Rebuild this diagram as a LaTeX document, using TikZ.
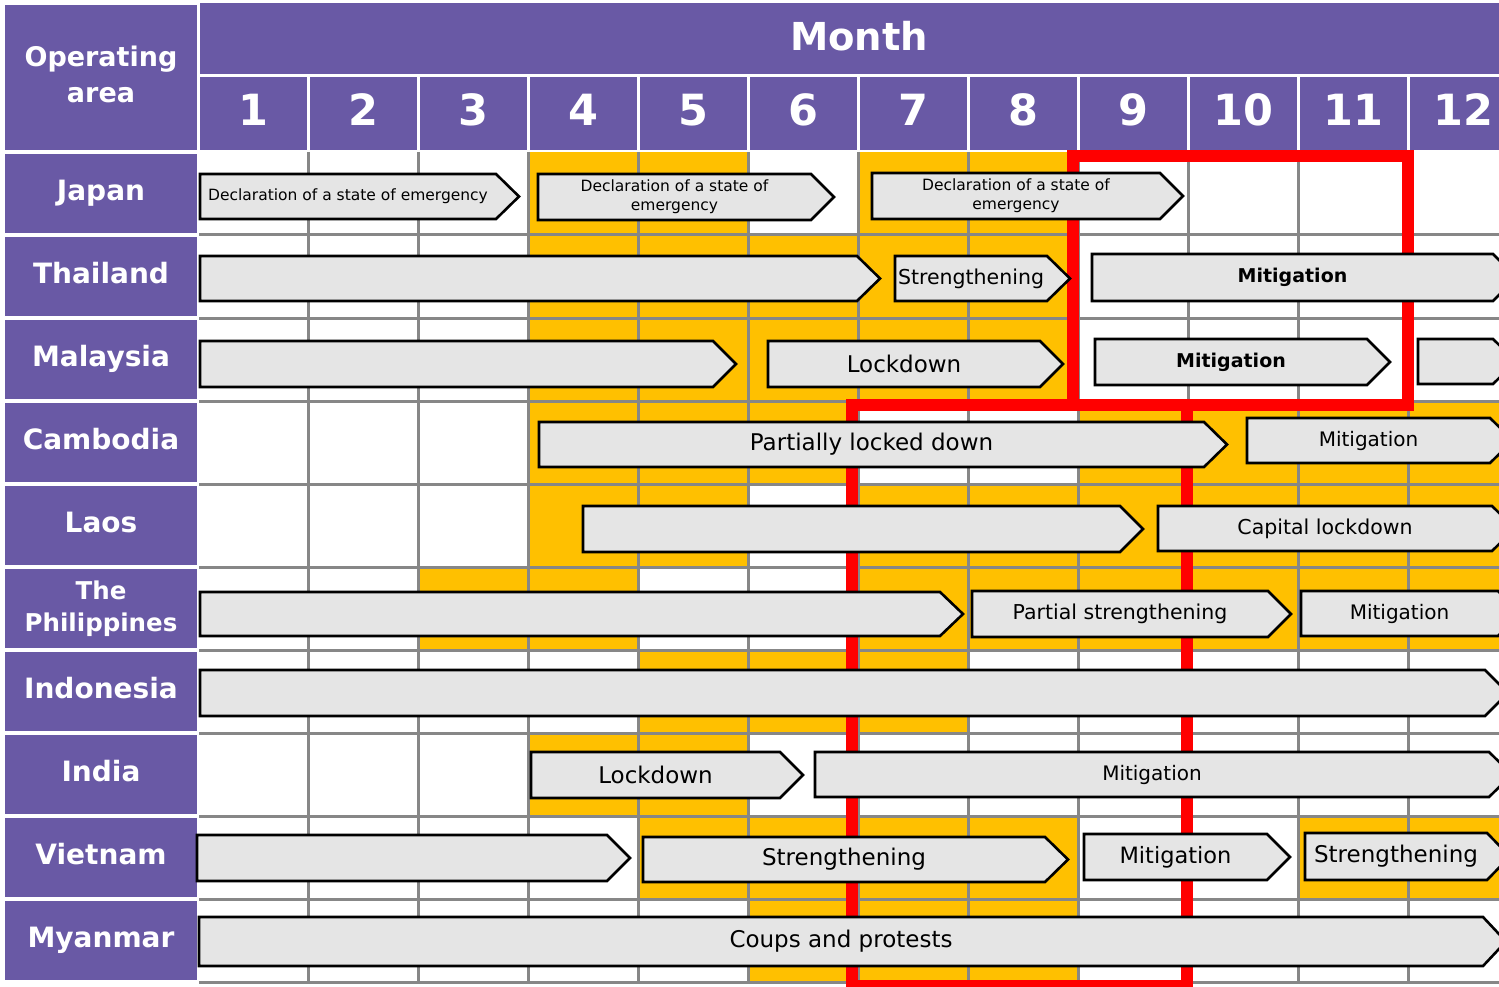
\documentclass[tikz,border=0pt]{standalone}
\usepackage{fontspec}
\setmainfont{DejaVu Sans}
\definecolor{hdr}{HTML}{6959A5}
\definecolor{hl}{HTML}{FFC000}
\definecolor{gridgray}{HTML}{878787}
\definecolor{barfill}{HTML}{E5E5E5}
\definecolor{markred}{HTML}{FF0000}
\newcommand\fs[2]{\fontsize{#1}{#2}\selectfont}
\tikzset{
  hdrtext/.style={text=white, inner sep=0pt, align=center},
  rowlabel/.style={hdrtext, font=\bfseries\fs{28}{34}, text height=0.76em, text depth=0.24em},
  gridline/.style={draw=gridgray, line width=3pt},
  phase/.style={draw=black, fill=barfill, line width=2.6pt, line join=miter},
  phasetext/.style={text=black, inner sep=0pt, align=center},
  focusbox/.style={draw=markred, line width=12pt},
}
% phase bar: name, left x, shoulder x, top y, bottom y, font, text
\newcommand\phasebar[7]{%
  \draw[phase] (#2,#4) -- (#3,#4) -- ({#3+23},{(#4+#5)/2}) -- (#3,#5) -- (#2,#5) -- cycle;
  \node[phasetext, font=#6] (#1) at ({(#2+#3)/2},{(#4+#5)/2}) {#7};}
\begin{document}
\begin{tikzpicture}[x=1pt,y=-1pt]
\useasboundingbox (0,0) rectangle (1499,987);
\clip (0,0) rectangle (1499,987);
\fill[white] (0,0) rectangle (1499,987);

% ---- header ----
\fill[hdr] (5,5) rectangle (197,150);
\node[hdrtext, font=\bfseries\fs{27}{36}] (area) at (101,74) {Operating\\area};
\fill[hdr] (200,3) rectangle (1519,74);
\node[hdrtext, font=\bfseries\fs{38.5}{40}] (month) at (859,36) {Month};
\foreach \k in {1,...,12} {
  \fill[hdr] ({200+110*(\k-1)},77) rectangle ({307+110*(\k-1)},150);
  \node[hdrtext, font=\bfseries\fs{43}{43}] (m\k) at ({253.5+110*(\k-1)},110) {\k};
}

% ---- row labels ----
\foreach \i in {0,...,9}
  \fill[hdr] (5,{152+83*\i+2}) rectangle (197,{152+83*(\i+1)-2});
\foreach \name [count=\i from 0] in {Japan,Thailand,Malaysia,Cambodia,Laos,,Indonesia,India,Vietnam,Myanmar}
  \node[rowlabel] (r\i) at (101,{198+83*\i}) {\name};
\node[hdrtext, font=\bfseries\fs{24.5}{32}] (r5) at (101,608.5) {The\\Philippines};

% ---- highlighted months ----
\foreach \r/\ms in {0/{4,5,7,8}, 1/{4,5,6,7,8}, 2/{4,5,6,7,8}, 3/{4,5,6,9,10,11,12},
    4/{4,5,7,8,9,10,11,12}, 5/{3,4,7,8,9,10,11,12}, 6/{5,6,7}, 7/{4,5},
    8/{5,6,7,8,11,12}, 9/{6,7,8}} {
  \foreach \k in \ms
    \fill[hl] ({198.5+110*(\k-1)},{152+83*\r}) rectangle ({198.5+110*\k},{152+83*(\r+1)});
}

% ---- grid ----
\foreach \k in {1,...,11}
  \draw[gridline] ({198.5+110*\k},152) -- ({198.5+110*\k},984);
\foreach \r in {1,...,10}
  \draw[gridline] (199,{152+83*\r}) -- (1499,{152+83*\r});

% ---- focus frames ----
\draw[focusbox] (1073,156) rectangle (1408,405);
\draw[focusbox] (852,405) rectangle (1187,986);

% ---- phases ----
% Japan
\phasebar{j1}{200}{496}{174}{219}{\fs{15.5}{19}}{Declaration of a state of emergency}
\phasebar{j2}{538}{811}{174}{220}{\fs{15.5}{19}}{Declaration of a state of\\emergency}
\phasebar{j3}{872}{1160}{173}{219}{\fs{15.5}{19}}{Declaration of a state of\\emergency}
% Thailand
\phasebar{t1}{200}{857}{256}{301}{\fs{20}{24}}{}
\phasebar{t2}{895}{1047}{256}{301}{\fs{20.5}{24}}{Strengthening}
\phasebar{t3}{1092}{1493}{254}{301}{\bfseries\fs{19}{24}}{Mitigation}
% Malaysia
\phasebar{s1}{200}{713}{341}{387}{\fs{20}{24}}{}
\phasebar{s2}{768}{1040}{341}{387}{\fs{23}{27}}{Lockdown}
\phasebar{s3}{1095}{1367}{339}{385}{\bfseries\fs{19}{24}}{Mitigation}
\phasebar{s4}{1418}{1493}{339}{384}{\fs{20}{24}}{}
% Cambodia
\phasebar{c1}{539}{1204}{422}{467}{\fs{23}{27}}{Partially locked down}
\phasebar{c2}{1247}{1490}{418}{463}{\fs{20}{24}}{Mitigation}
% Laos
\phasebar{l1}{583}{1120}{506}{552}{\fs{20}{24}}{}
\phasebar{l2}{1158}{1492}{506}{551}{\fs{20.5}{24}}{Capital lockdown}
% The Philippines
\phasebar{p1}{200}{940}{592}{636}{\fs{20}{24}}{}
\phasebar{p2}{972}{1268}{591}{637}{\fs{20.5}{24}}{Partial strengthening}
\phasebar{p3}{1301}{1498}{591}{636}{\fs{20}{24}}{Mitigation}
% Indonesia
\phasebar{d1}{200}{1485}{670}{716}{\fs{20}{24}}{}
% India
\phasebar{n1}{531}{780}{752}{798}{\fs{23}{27}}{Lockdown}
\phasebar{n2}{815}{1489}{752}{797}{\fs{20}{24}}{Mitigation}
% Vietnam
\phasebar{v1}{197}{607}{835}{881}{\fs{20}{24}}{}
\phasebar{v2}{643}{1045}{837}{882}{\fs{23}{27}}{Strengthening}
\phasebar{v3}{1084}{1267}{834}{880}{\fs{22.5}{27}}{Mitigation}
\phasebar{v4}{1305}{1487}{833}{880}{\fs{23}{27}}{Strengthening}
% Myanmar
\phasebar{y1}{199}{1483}{917}{966}{\fs{23}{27}}{Coups and protests}
\end{tikzpicture}
\end{document}
